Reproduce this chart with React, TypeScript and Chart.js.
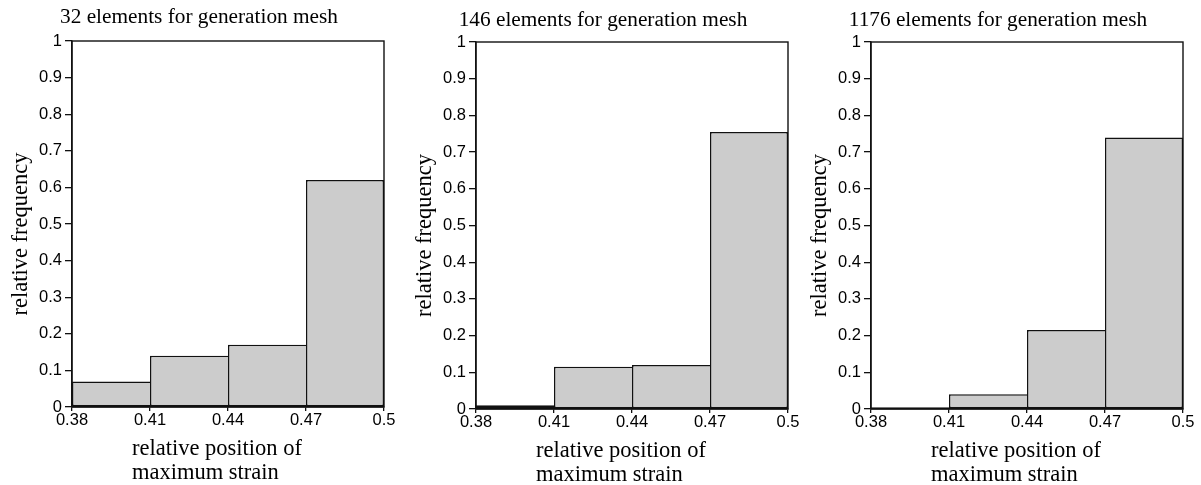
import React, { useEffect, useRef } from "react";
import { Chart, registerables } from "chart.js";

Chart.register(...registerables);

// ---- data ----
const binEdges = [0.38, 0.41, 0.44, 0.47, 0.5];
const yTickValues = [0, 0.1, 0.2, 0.3, 0.4, 0.5, 0.6, 0.7, 0.8, 0.9, 1];
const panelTitles = [
  "32 elements for generation mesh",
  "146 elements for generation mesh",
  "1176 elements for generation mesh",
];
const freq32 = [0.07, 0.14, 0.17, 0.62];
const freq146 = [0.01, 0.115, 0.12, 0.755];
const freq1176 = [0.005, 0.04, 0.215, 0.74];
const yAxisLabel = "relative frequency";
const xAxisLabel = ["relative position of", "maximum strain"];

const panelValues = [freq32, freq146, freq1176];

// ---- layout (positions/styles only) ----
const CANVAS_W = 400;
const CANVAS_H = 485;
const panelLayout = [
  { left: 0, top: 41, bottom: 407, titleBaseline: 23 },
  { left: 404, top: 42, bottom: 409, titleBaseline: 26 },
  { left: 799, top: 42, bottom: 409, titleBaseline: 26 },
];
const SERIF = "'Liberation Serif', 'Times New Roman', serif";
const SANS = "'Liberation Sans', Arial, Helvetica, sans-serif";

function Panel({ index }: { index: number }) {
  const ref = useRef<HTMLCanvasElement | null>(null);
  useEffect(() => {
    if (!ref.current) return;
    const values = panelValues[index];
    const lay = panelLayout[index];
    const title = panelTitles[index];
    const centers = values.map((_, i) => (binEdges[i] + binEdges[i + 1]) / 2);

    const decor = {
      id: "decor",
      afterDraw(chart: any) {
        const { ctx, chartArea } = chart;
        const { left, right, top, bottom } = chartArea;
        ctx.save();
        // frame
        ctx.strokeStyle = "#111";
        ctx.lineWidth = 1.4;
        ctx.strokeRect(left, top, right - left, bottom - top);
        // title
        ctx.fillStyle = "#000";
        ctx.font = `21.3px ${SERIF}`;
        ctx.textAlign = "center";
        ctx.textBaseline = "alphabetic";
        ctx.fillText(title, left + 127, lay.titleBaseline);
        // x axis label (left aligned, two lines)
        ctx.font = `22.5px ${SERIF}`;
        ctx.textAlign = "left";
        ctx.fillText(xAxisLabel[0], left + 60, bottom + 48);
        ctx.fillText(xAxisLabel[1], left + 60, bottom + 72);
        // y axis label (rotated)
        ctx.translate(left - 45, (top + bottom) / 2 + 10);
        ctx.rotate(-Math.PI / 2);
        ctx.textAlign = "center";
        ctx.fillText(yAxisLabel, 0, 0);
        ctx.restore();
      },
    };

    const chart = new Chart(ref.current, {
      type: "bar",
      data: {
        datasets: [
          {
            data: centers.map((c, i) => ({ x: c, y: values[i] })),
            backgroundColor: "#cccccc",
            borderColor: "#111111",
            borderWidth: 1.5,
            borderSkipped: (ctx: any) => {
              const i = ctx.dataIndex;
              if (i < values.length - 1 && values[i + 1] >= values[i]) return "right";
              return false;
            },
            barPercentage: 1,
            categoryPercentage: 1,
            inflateAmount: 0,
          } as any,
        ],
      },
      options: {
        animation: false,
        responsive: false,
        events: [],
        layout: { padding: { top: lay.top, left: 0, right: CANVAS_W - 72 - 312, bottom: 0 } },
        plugins: {
          legend: { display: false },
          tooltip: { enabled: false },
          title: { display: false },
        },
        scales: {
          x: {
            type: "linear",
            min: binEdges[0],
            max: binEdges[binEdges.length - 1],
            offset: false,
            afterBuildTicks: (s: any) => {
              s.ticks = binEdges.map((v) => ({ value: v }));
            },
            afterFit: (s: any) => {
              s.height = CANVAS_H - lay.bottom;
            },
            ticks: {
              callback: (v: any) => String(v),
              font: { family: SANS, size: 16.5 },
              color: "#000",
              padding: 0,
              maxRotation: 0,
              autoSkip: false,
            },
            grid: { drawOnChartArea: false, offset: false, tickLength: 4, color: "#111", lineWidth: 1.3 },
            border: { color: "#111", width: 1.4 },
          },
          y: {
            type: "linear",
            min: 0,
            max: 1,
            afterBuildTicks: (s: any) => {
              s.ticks = yTickValues.map((v) => ({ value: v }));
            },
            afterFit: (s: any) => {
              s.width = 72;
            },
            ticks: {
              callback: (v: any) => String(v),
              font: { family: SANS, size: 16.5 },
              color: "#000",
              padding: 3,
              autoSkip: false,
            },
            grid: { drawOnChartArea: false, tickLength: 7, color: "#111", lineWidth: 1.3 },
            border: { color: "#111", width: 1.4 },
          },
        },
      } as any,
      plugins: [decor],
    });
    return () => chart.destroy();
  }, [index]);

  const lay = panelLayout[index];
  return (
    <canvas
      ref={ref}
      width={CANVAS_W}
      height={CANVAS_H}
      style={{ position: "absolute", left: lay.left, top: 0, width: CANVAS_W, height: CANVAS_H }}
    />
  );
}

export default function App() {
  return (
    <div style={{ position: "fixed", left: 0, top: 0, width: 1201, height: 485, background: "#fff" }}>
      <Panel index={0} />
      <Panel index={1} />
      <Panel index={2} />
    </div>
  );
}
